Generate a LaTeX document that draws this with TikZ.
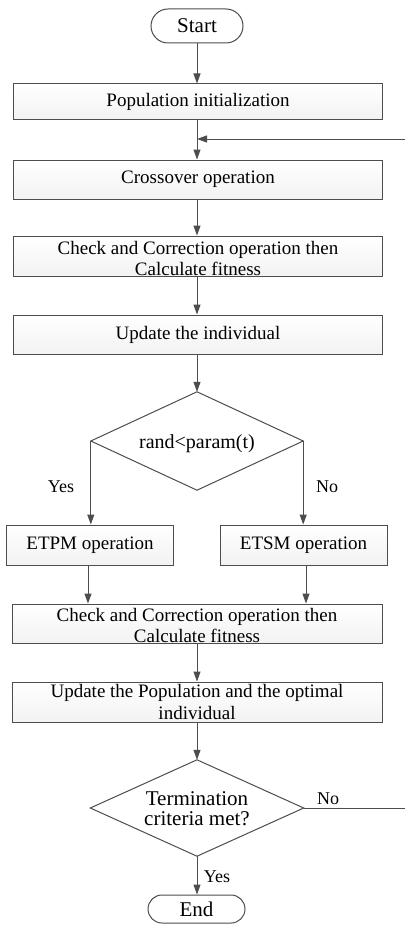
\documentclass[tikz,border=0pt]{standalone}
\usepackage{fontspec}
\setmainfont{Liberation Serif}
\usetikzlibrary{arrows.meta,shapes.misc,backgrounds,calc}
\definecolor{ln}{HTML}{4D4D4D}
\definecolor{shd}{HTML}{E2E2E2}
\begin{document}
\begin{tikzpicture}[x=1pt,y=-1pt,
  box/.style={rectangle,draw=ln,line width=1pt,top color=white,bottom color=gray!10,inner sep=0pt,align=center,font=\fontsize{19}{21}\selectfont},
  term/.style={rounded rectangle,draw=ln,line width=1pt,fill=white,inner sep=0pt,font=\fontsize{21}{24}\selectfont},
  dec/.style={rectangle,inner sep=0pt,align=center},
  decline/.style={draw=ln,line width=1pt,fill=white},
  arr/.style={draw=ln,line width=1pt,-{Triangle[length=10pt,width=7pt]}},
  conn/.style={draw=ln,line width=1pt},
  lab/.style={font=\fontsize{18}{20}\selectfont}
]
\useasboundingbox (0,0) rectangle (405,931);
\fill[white] (0,0) rectangle (405,931);

% nodes
\node[term,minimum width=92pt,minimum height=34pt] (start) at (197,26) {Start};
\node[box,minimum width=369pt,minimum height=36pt] (pop) at (198,102) {Population initialization};
\node[box,minimum width=369pt,minimum height=39pt] (cross) at (198,179.5) {Crossover operation};
\node[box,minimum width=369pt,minimum height=40pt] (chk1) at (198,256) {};
\node[align=center,inner sep=0pt,font=\fontsize{19}{21}\selectfont] at ($(chk1.center)+(0,2)$) {Check and Correction operation then\\Calculate fitness};
\node[box,minimum width=369pt,minimum height=39pt] (upd) at (198,334.5) {Update the individual};
\node[dec,minimum width=212pt,minimum height=98pt] (d1) at (197,441) {};
\node[box,minimum width=167pt,minimum height=40pt] (etpm) at (90,545) {ETPM operation};
\node[box,minimum width=167pt,minimum height=40pt] (etsm) at (303.5,545) {ETSM operation};
\node[box,minimum width=370pt,minimum height=39pt] (chk2) at (197,623.5) {};
\node[align=center,inner sep=0pt,font=\fontsize{19}{21}\selectfont] at ($(chk2.center)+(0,2)$) {Check and Correction operation then\\Calculate fitness};
\node[box,minimum width=370pt,minimum height=40pt,font=\fontsize{19}{22}\selectfont] (updp) at (197,702) {Update the Population and the optimal\\individual};
\node[dec,minimum width=213pt,minimum height=96pt] (d2) at (197,808) {};
\node[term,minimum width=97pt,minimum height=28pt] (end) at (196.5,909) {End};

% diamonds
\draw[decline] (d1.north) -- (d1.east) -- (d1.south) -- (d1.west) -- cycle;
\node[font=\fontsize{20}{22}\selectfont] at ($(d1.center)+(0,3)$) {rand<param(t)};
\draw[decline] (d2.north) -- (d2.east) -- (d2.south) -- (d2.west) -- cycle;
\node[align=center,inner sep=0pt,font=\fontsize{21}{20}\selectfont] at ($(d2.center)+(0,1)$) {Termination\\criteria met?};

% shadows
\begin{scope}[on background layer]
\foreach \n in {pop,cross,chk1,upd,etpm,etsm,chk2,updp}{
  \fill[shd] (\n.north west) rectangle ($(\n.south east)+(8,8)$);
}
\foreach \n in {start,end}{
  \fill[shd] ($(\n.west |- \n.north)+(2,2)$) rectangle ($(\n.east |- \n.south)+(6,7)$);
}
\end{scope}

% connectors
\coordinate (fbin) at (405,139);
\coordinate (fbj) at (197,139);
\coordinate (noout) at (405,808);
\draw[arr] (start.south) -- (start.south |- pop.north);
\draw[arr] (pop.south -| fbj) -- (cross.north -| fbj);
\draw[arr] (fbin) -- (fbj);
\draw[arr] (cross.south -| fbj) -- (chk1.north -| fbj);
\draw[arr] (chk1.south -| fbj) -- (upd.north -| fbj);
\draw[arr] (upd.south -| fbj) -- (d1.north);
\draw[arr] (d1.west) -- (d1.west |- etpm.north);
\draw[arr] (d1.east) -- (d1.east |- etsm.north);
\draw[arr] (etpm.south -| 88,0) -- (chk2.north -| 88,0);
\draw[arr] (etsm.south -| 306,0) -- (chk2.north -| 306,0);
\draw[arr] (chk2.south -| fbj) -- (updp.north -| fbj);
\draw[arr] (updp.south -| fbj) -- (d2.north);
\draw[arr] (d2.south) -- (d2.south |- end.north);
\draw[conn] (d2.east) -- (noout);

% labels
\node[lab] at (61,487) {Yes};
\node[lab] at (327,487) {No};
\node[lab] at (217,877) {Yes};
\node[lab] at (328,799) {No};
\end{tikzpicture}
\end{document}
